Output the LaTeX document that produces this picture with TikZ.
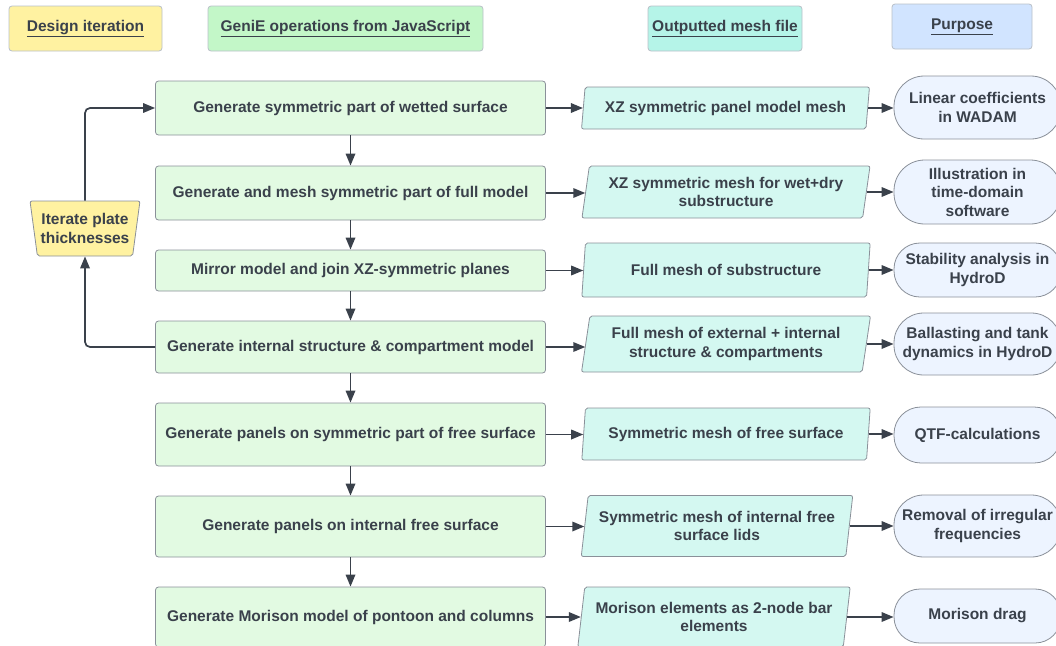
\documentclass[tikz,border=0pt]{standalone}
\usepackage{fontspec}
\setmainfont{Liberation Sans}
\usetikzlibrary{shapes.geometric,arrows.meta}
\definecolor{ink}{HTML}{3A414B}
\definecolor{edge}{HTML}{8A9099}
\definecolor{hedge}{HTML}{B9C0C8}
\definecolor{yel}{HTML}{FFF2A1}
\definecolor{grnhead}{HTML}{C3F7C8}
\definecolor{tealhead}{HTML}{B5F4E8}
\definecolor{bluehead}{HTML}{D1E4FF}
\definecolor{grn}{HTML}{E2FAE2}
\definecolor{tealfill}{HTML}{D4F8F1}
\definecolor{blu}{HTML}{EDF4FF}
\tikzset{
  every node/.style={text=ink,font=\fontsize{15.5}{18.5}\selectfont\bfseries,align=center,inner sep=2pt},
  header/.style={draw=hedge,rounded corners=3pt,minimum height=45pt,line width=0.8pt},
  process/.style={draw=edge,fill=grn,rounded corners=3pt,minimum width=390pt,minimum height=#1,line width=0.8pt},
  meshfile/.style={trapezium,trapezium left angle=78,trapezium right angle=102,trapezium stretches=true,
    draw=edge,fill=tealfill,minimum height=#1,line width=0.8pt,rounded corners=2pt,inner sep=0pt},
  purpose/.style={draw=edge,fill=blu,minimum width=167pt,minimum height=#1,rounded corners=0.48*#1,line width=0.8pt},
  loopbox/.style={trapezium,trapezium left angle=103,trapezium right angle=103,trapezium stretches=true,
    draw=edge,fill=yel,minimum width=110pt,minimum height=55pt,line width=0.8pt,rounded corners=2pt,inner sep=0pt},
  flow/.style={draw=ink,line width=1.7pt,-{Triangle[length=12pt,width=9.5pt]}},
}
\begin{document}
\begin{tikzpicture}[x=1pt,y=-1pt]
    \useasboundingbox (0,0) rectangle (1056,645);
    % column headers
    \node[header,fill=yel,minimum width=153pt] (hdesign) at (85.5,28.5) {\underline{Design iteration}};
    \node[header,fill=grnhead,minimum width=275pt] (hgenie) at (345.5,28.5) {\underline{GeniE operations from JavaScript}};
    \node[header,fill=tealhead,minimum width=154pt] (hmesh) at (725,28.5) {\underline{Outputted mesh file}};
    \node[header,fill=bluehead,minimum width=140pt] (hpurpose) at (962,26.5) {\underline{Purpose}};

    % GeniE operations
    \node[process=54pt] (g1) at (350.5,108) {Generate symmetric part of wetted surface};
    \node[process=54pt] (g2) at (350.5,193) {Generate and mesh symmetric part of full model};
    \node[process=41pt] (g3) at (350.5,270.5) {Mirror model and join XZ-symmetric planes};
    \node[process=52pt] (g4) at (350.5,347) {Generate internal structure \& compartment model};
    \node[process=63pt] (g5) at (350.5,434.5) {Generate panels on symmetric part of free surface};
    \node[process=61pt] (g6) at (350.5,526.5) {Generate panels on internal free surface};
    \node[process=60pt] (g7) at (350.5,617) {Generate Morison model of pontoon and columns};

    % mesh files
    \node[meshfile=42pt,minimum width=289pt] (m1) at (725.5,108) {XZ symmetric panel model mesh};
    \node[meshfile=52pt,minimum width=289pt] (m2) at (726,192) {XZ symmetric mesh for wet+dry\\substructure};
    \node[meshfile=54pt,minimum width=289pt] (m3) at (726,270) {Full mesh of substructure};
    \node[meshfile=56pt,minimum width=289pt] (m4) at (726,344) {Full mesh of external + internal\\structure \& compartments};
    \node[meshfile=52pt,minimum width=289pt] (m5) at (726,434) {Symmetric mesh of free surface};
    \node[meshfile=61pt,minimum width=272pt] (m6) at (717,526) {Symmetric mesh of internal free\\surface lids};
    \node[meshfile=60pt,minimum width=273pt] (m7) at (714,617) {Morison elements as 2-node bar\\elements};

    % purposes
    \node[purpose=63pt] (t1) at (977.5,107.5) {Linear coefficients\\in WADAM};
    \node[purpose=64pt] (t2) at (977.5,192) {Illustration in\\time-domain\\software};
    \node[purpose=54pt] (t3) at (977.5,270) {Stability analysis in\\HydroD};
    \node[purpose=62pt] (t4) at (977.5,344) {Ballasting and tank\\dynamics in HydroD};
    \node[purpose=56pt] (t5) at (977.5,435) {QTF-calculations};
    \node[purpose=62pt] (t6) at (977.5,526) {Removal of irregular\\frequencies};
    \node[purpose=54pt] (t7) at (977.5,616) {Morison drag};

    % design loop
    \node[loopbox] (iter) at (85,228.5) {Iterate plate\\thicknesses};

    \foreach \a/\b in {g1/g2,g2/g3,g3/g4,g4/g5,g5/g6,g6/g7}
        \draw[flow] (\a) -- (\b);
    \foreach \i in {1,...,7} {
        \draw[flow] (g\i.east) -- (g\i.east -| m\i.west);
        \draw[flow] (m\i.east) -- (m\i.east -| t\i.west);
    }
    \draw[flow,rounded corners=5pt] (iter.north) |- (g1.west);
    \draw[flow,rounded corners=5pt] (g4.west) -| (iter.south);
\end{tikzpicture}
\end{document}
